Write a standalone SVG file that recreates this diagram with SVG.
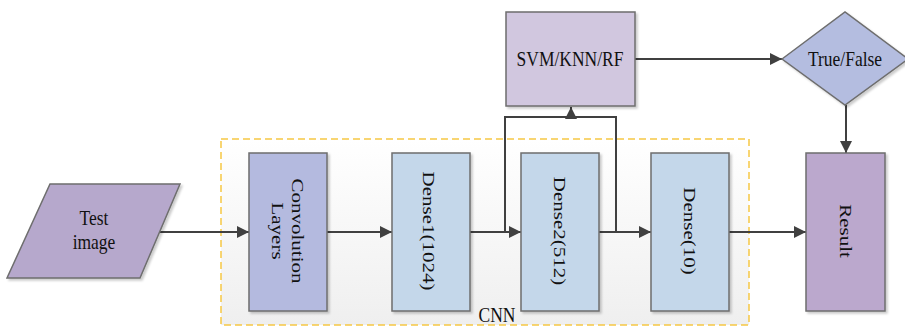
<svg xmlns="http://www.w3.org/2000/svg" width="905" height="327" viewBox="0 0 905 327">
  <defs>
    <linearGradient id="cnnFill" x1="0" y1="0" x2="0" y2="1">
      <stop offset="0" stop-color="#ffffff"/>
      <stop offset="1" stop-color="#efefef"/>
    </linearGradient>
    <filter id="shadow" x="-10%" y="-10%" width="130%" height="130%">
      <feDropShadow dx="2" dy="2" stdDeviation="1.2" flood-color="#000" flood-opacity="0.2"/>
    </filter>
    <marker id="arrow" viewBox="0 0 12 12" refX="12" refY="6" markerWidth="12" markerHeight="12" markerUnits="userSpaceOnUse" orient="auto">
      <path d="M0,0 L12,6 L0,12 Z" fill="#404040"/>
    </marker>
  </defs>
  <style>
    .node { stroke: #6e6e6e; stroke-width: 1.5; filter: url(#shadow); }
    .lbl { font-family: "Liberation Serif", "Times New Roman", serif; font-size: 17.5px; fill: #111111; text-anchor: middle; }
    .conn { fill: none; stroke: #404040; stroke-width: 2; }
  </style>

  <rect width="905" height="327" fill="#ffffff"/>

  <!-- CNN container -->
  <g id="cnn">
    <rect x="221" y="139" width="528" height="186" fill="url(#cnnFill)" stroke="#f6c744" stroke-width="1.5" stroke-dasharray="7 4"/>
    <text class="lbl" transform="translate(497,322) scale(1,1.15)">CNN</text>
  </g>

  <!-- connectors -->
  <g id="connectors">
    <line class="conn" x1="160" y1="232" x2="249" y2="232" marker-end="url(#arrow)"/>
    <line class="conn" x1="327" y1="232" x2="392" y2="232" marker-end="url(#arrow)"/>
    <line class="conn" x1="470" y1="232" x2="521" y2="232" marker-end="url(#arrow)"/>
    <line class="conn" x1="599" y1="232" x2="651" y2="232" marker-end="url(#arrow)"/>
    <line class="conn" x1="729" y1="232" x2="806" y2="232" marker-end="url(#arrow)"/>
    <polyline class="conn" points="505,232 505,117 616,117 616,232"/>
    <line class="conn" x1="571" y1="117" x2="571" y2="107" marker-end="url(#arrow)"/>
    <line class="conn" x1="635" y1="59" x2="782" y2="59" marker-end="url(#arrow)"/>
    <line class="conn" x1="846" y1="105" x2="846" y2="153" marker-end="url(#arrow)"/>
  </g>

  <g id="test-image">
    <polygon class="node" points="50,184 180,184 140,278 7,278" fill="#b6a8cc"/>
    <text class="lbl" transform="translate(94,225) scale(1,1.2)">Test</text>
    <text class="lbl" transform="translate(94,249) scale(1,1.2)">image</text>
  </g>

  <g id="conv-layers">
    <rect class="node" x="249" y="153" width="78" height="158" fill="#b4badf"/>
    <text class="lbl" transform="translate(292,231) rotate(90) scale(1.2,1)">Convolution</text>
    <text class="lbl" transform="translate(272,231) rotate(90) scale(1.2,1)">Layers</text>
  </g>

  <g id="dense1">
    <rect class="node" x="392" y="153" width="78" height="158" fill="#c4d7ea"/>
    <text class="lbl" transform="translate(423,231) rotate(90) scale(1.2,1)">Dense1(1024)</text>
  </g>

  <g id="dense2">
    <rect class="node" x="521" y="153" width="78" height="158" fill="#c4d7ea"/>
    <text class="lbl" transform="translate(554,231) rotate(90) scale(1.2,1)">Dense2(512)</text>
  </g>

  <g id="dense10">
    <rect class="node" x="651" y="153" width="78" height="158" fill="#c4d7ea"/>
    <text class="lbl" transform="translate(684,231) rotate(90) scale(1.2,1)">Dense(10)</text>
  </g>

  <g id="result">
    <rect class="node" x="806" y="153" width="79" height="158" fill="#bba8cd"/>
    <text class="lbl" transform="translate(840,231) rotate(90) scale(1.2,1)">Result</text>
  </g>

  <g id="classifier">
    <rect class="node" x="506" y="12" width="129" height="94" fill="#d1c7df"/>
    <text class="lbl" transform="translate(570,66) scale(1,1.2)">SVM/KNN/RF</text>
  </g>

  <g id="decision">
    <polygon class="node" points="782,59 845,12 908,59 845,105" fill="#b4bde0"/>
    <text class="lbl" transform="translate(845,66) scale(1,1.2)">True/False</text>
  </g>
</svg>
